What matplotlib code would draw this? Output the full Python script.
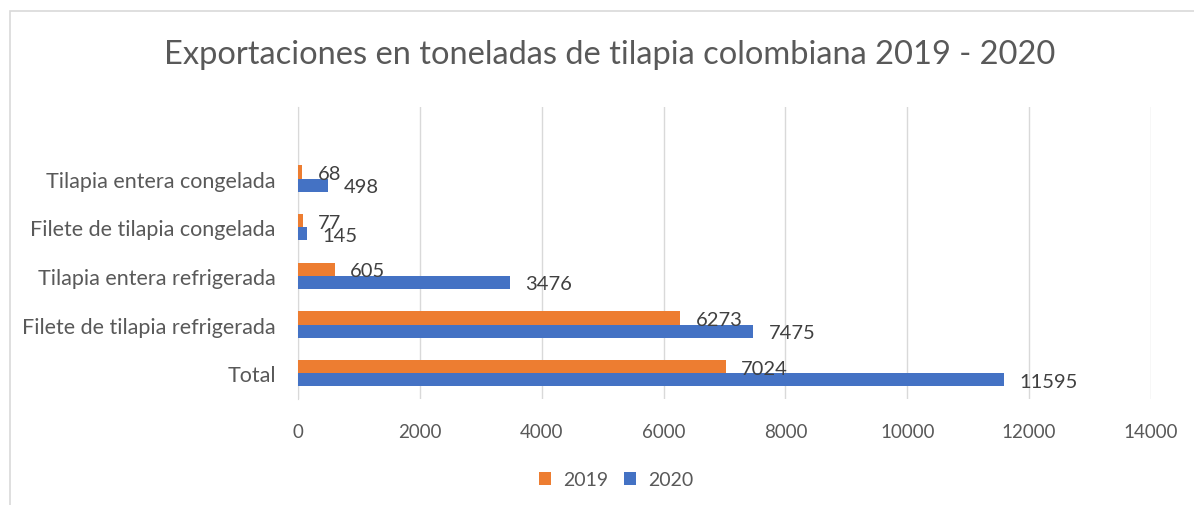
import matplotlib.pyplot as plt
import numpy as np
from matplotlib.patches import Rectangle

categories = ['Total', 'Filete de tilapia refrigerada', 'Tilapia entera refrigerada',
              'Filete de tilapia congelada', 'Tilapia entera congelada']
values_2019 = [7024, 6273, 605, 77, 68]
values_2020 = [11595, 7475, 3476, 145, 498]
xticks = [0, 2000, 4000, 6000, 8000, 10000, 12000, 14000]

orange = '#ED7D31'
blue = '#4472C4'
grey = '#595959'

plt.rcParams['font.family'] = ['Lato', 'DejaVu Sans']

fig = plt.figure(figsize=(11.94, 5.06), dpi=100)
ax = fig.add_axes([0.2496, 0.2095, 0.7144, 0.5771])

y = np.arange(len(categories))
h = 0.27
bars19 = ax.barh(y + h / 2, values_2019, height=h, color=orange, label='2019', zorder=3)
bars20 = ax.barh(y - h / 2, values_2020, height=h, color=blue, label='2020', zorder=3)

# data labels just past the bar ends
for bars in (bars19, bars20):
    for b in bars:
        w = b.get_width()
        ax.annotate(str(int(w)), (w, b.get_y() + b.get_height() / 2),
                    xytext=(11, -1), textcoords='offset points',
                    ha='left', va='center', fontsize=14.5, color='#404040', zorder=4)

ax.set_xlim(0, 14000)
ax.set_ylim(-0.53, 5.47)
ax.set_xticks(xticks)
ax.set_xticklabels([str(t) for t in xticks])
ax.set_yticks(y)
ax.set_yticklabels(categories)
ax.tick_params(axis='both', length=0, colors=grey)
ax.tick_params(axis='x', pad=17, labelsize=13.5)
ax.tick_params(axis='y', pad=16, labelsize=15.5)
ax.grid(axis='x', color='#D9D9D9', linewidth=1, zorder=0)
for s in ['top', 'right', 'bottom']:
    ax.spines[s].set_visible(False)
ax.spines['left'].set_color('#D9D9D9')

fig.text(0.511, 1 - 55 / 506, 'Exportaciones en toneladas de tilapia colombiana 2019 - 2020',
         ha='center', va='center', fontsize=23.5, color=grey)

fig.legend(handles=[bars19, bars20], labels=['2019', '2020'], loc='center',
           bbox_to_anchor=(0.516, 1 - 481 / 506), ncol=2, frameon=False,
           fontsize=14, labelcolor=grey, handlelength=0.65, handleheight=0.65,
           handletextpad=0.6, columnspacing=0.8)

# chart frame, cut off at right and bottom as in the reference
fig.patches.append(Rectangle((10 / 1194, -0.1), 1.2, 1 - 12 / 506 + 0.1,
                             transform=fig.transFigure, fill=False,
                             edgecolor='#D9D9D9', linewidth=1.2))

fig.savefig('out.png', dpi=100)
